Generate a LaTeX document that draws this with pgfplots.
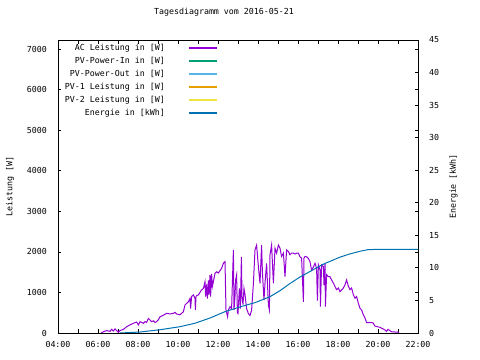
\documentclass[border=0pt]{standalone}
\usepackage{fontspec}
\setmonofont{DejaVu Sans Mono}
\usepackage{pgfplots}
\pgfplotsset{compat=1.18}
\definecolor{cAC}{RGB}{148,0,211}
\definecolor{cIn}{RGB}{0,158,115}
\definecolor{cOut}{RGB}{86,180,233}
\definecolor{cPVa}{RGB}{230,159,0}
\definecolor{cPVb}{RGB}{240,228,66}
\definecolor{cE}{RGB}{0,114,178}
\newcommand{\gf}{\ttfamily\fontsize{8.3bp}{10bp}\selectfont}
\begin{document}
\begin{tikzpicture}
\path[use as bounding box] (-58bp,-27bp) rectangle (422bp,333bp);
\begin{axis}[
  width=360bp, height=293bp, scale only axis,
  xmin=4, xmax=22, ymin=0, ymax=7230,
  xtick={4,6,...,22},
  xticklabels={04:00,06:00,08:00,10:00,12:00,14:00,16:00,18:00,20:00,22:00},
  minor xtick={5,7,...,21},
  ytick={0,1000,...,7000},
  scaled y ticks=false,
  /pgf/number format/1000 sep={},
  /pgf/number format/assume math mode=true,
  tick align=inside, tick pos=both, xticklabel pos=lower, yticklabel pos=left,
  major tick length=3.5bp, minor tick length=3.5bp,
  every tick/.style={black, line width=0.8bp},
  axis line style={line width=0.8bp},
  ticklabel style={font=\gf, inner sep=0pt},
  yticklabel style={anchor=east, xshift=-11bp},
  xticklabel style={anchor=center, yshift=-11bp},
  title={Tagesdiagramm vom 2016-05-21},
  title style={font=\gf, at={(axis description cs:0.4611,1.075)}, anchor=center},
  ylabel={Leistung [W]},
  every axis y label/.style={at={(axis description cs:-0.1333,0.5)}, rotate=90, anchor=center, font=\gf},
  legend plot pos=right,
  legend cell align=right,
  legend image code/.code={\draw[#1, line width=1.2bp] (0bp,0bp) -- (28bp,0bp);},
  legend style={at={(axis description cs:0.4444,0.9846)}, anchor=north east,
    draw=none, fill=none, font=\gf, inner sep=0pt, outer sep=0pt,
    nodes={inner sep=0pt, text height=6bp, text depth=1bp},
    row sep=6bp, column sep=24bp},
]
\addplot[draw=cAC, line width=1bp] coordinates {
(6.15,0) (6.27,30) (6.43,60) (6.6,40) (6.68,90) (6.77,50) (6.85,100) (6.93,60)
(7.02,20) (7.1,60) (7.27,90) (7.43,155) (7.6,200) (7.77,240) (7.93,270) (8.02,200)
(8.1,280) (8.27,240) (8.35,280) (8.43,260) (8.52,360) (8.6,320) (8.68,280) (8.77,300)
(8.85,260) (8.93,280) (9.02,330) (9.1,400) (9.27,440) (9.43,485) (9.6,470) (9.77,485)
(9.85,510) (9.93,470) (10.1,450) (10.18,485) (10.27,525) (10.35,690) (10.43,730)
(10.52,770) (10.6,850) (10.63,600) (10.68,900) (10.77,940) (10.85,850) (10.87,570)
(10.9,900) (10.93,920) (11.02,940) (11.1,1000) (11.17,1060) (11.27,1100) (11.35,1265)
(11.38,900) (11.43,1200) (11.47,850) (11.52,1300) (11.55,950) (11.6,1430) (11.63,900)
(11.68,1460) (11.72,1150) (11.77,1270) (11.85,1470) (11.93,1510) (12.02,1480)
(12.1,1540) (12.18,1595) (12.27,1720) (12.35,1760) (12.4,570) (12.48,400) (12.52,570)
(12.6,650) (12.68,600) (12.77,2050) (12.8,570) (12.85,900) (12.88,1300) (12.93,1430)
(12.97,500) (13.0,480) (13.07,1100) (13.12,600) (13.17,1880) (13.2,890) (13.25,700)
(13.3,1100) (13.35,950) (13.43,600) (13.52,480) (13.6,430) (13.68,560) (13.77,1225)
(13.85,2050) (13.93,2170) (14.02,1635) (14.1,1225) (14.18,2170) (14.22,1500)
(14.3,810) (14.35,1225) (14.43,1720) (14.52,690) (14.57,570) (14.6,1930) (14.68,2170)
(14.77,1225) (14.85,2090) (14.93,1970) (15.02,2170) (15.1,2090) (15.18,1890)
(15.27,1970) (15.35,1390) (15.43,2050) (15.52,2010) (15.6,1930) (15.68,1970)
(15.77,1970) (15.85,1950) (15.93,1970) (16.02,1970) (16.1,1880) (16.18,1850)
(16.27,770) (16.3,1850) (16.35,1890) (16.43,1880) (16.52,1840) (16.6,1760)
(16.68,1550) (16.77,1630) (16.85,1720) (16.93,1600) (16.97,800) (17.02,1680)
(17.1,1560) (17.12,650) (17.18,1680) (17.27,1640) (17.3,1180) (17.35,1720)
(17.37,650) (17.43,1440) (17.52,1390) (17.6,1390) (17.68,1310) (17.77,1230)
(17.85,1150) (17.93,1070) (18.02,1110) (18.1,1020) (18.18,1060) (18.27,1110)
(18.35,1190) (18.43,1310) (18.52,1150) (18.6,1070) (18.68,1110) (18.77,940)
(18.85,860) (18.93,900) (19.02,730) (19.1,610) (19.18,570) (19.27,445) (19.35,370)
(19.43,255) (19.6,260) (19.75,250) (19.85,170) (20.1,140) (20.35,75) (20.43,40)
(20.5,90) (20.68,30) (21.0,20) (21.05,0)
};
\addlegendentry{AC Leistung in [W]}
\addlegendimage{draw=cIn, line width=1bp}
\addlegendentry{PV-Power-In in [W]}
\addlegendimage{draw=cOut, line width=1bp}
\addlegendentry{PV-Power-Out in [W]}
\addlegendimage{draw=cPVa, line width=1bp}
\addlegendentry{PV-1 Leistung in [W]}
\addlegendimage{draw=cPVb, line width=1bp}
\addlegendentry{PV-2 Leistung in [W]}
\addlegendimage{draw=cE, line width=1bp}
\addlegendentry{Energie in [kWh]}
\end{axis}
\begin{axis}[
  width=360bp, height=293bp, scale only axis,
  xmin=4, xmax=22, ymin=0, ymax=45,
  axis x line=none, axis y line*=right,
  ytick={0,5,...,45},
  /pgf/number format/assume math mode=true,
  tick align=inside,
  major tick length=3.5bp,
  every tick/.style={black, line width=0.8bp},
  axis line style={line width=0.8bp},
  ticklabel style={font=\gf, inner sep=0pt},
  yticklabel style={anchor=west, xshift=11bp},
  ylabel={Energie [kWh]},
  every axis y label/.style={at={(axis description cs:1.0986,0.5)}, rotate=90, anchor=center, font=\gf},
]
\addplot[draw=cE, line width=1bp] coordinates {
(7.1,0) (8.1,0.15) (9.1,0.5) (10.1,0.97) (10.85,1.5) (11.6,2.3) (12.35,3.28)
(13.1,4.0) (13.6,4.45) (13.85,4.66) (14.6,5.58) (15.1,6.5) (15.6,7.6) (16.1,8.6)
(16.6,9.45) (17.1,10.3) (17.35,10.7) (17.6,11.0) (18.1,11.65) (18.6,12.15)
(19.1,12.55) (19.5,12.8) (20.0,12.85) (22,12.85)
};
\end{axis}
\end{tikzpicture}
\end{document}
